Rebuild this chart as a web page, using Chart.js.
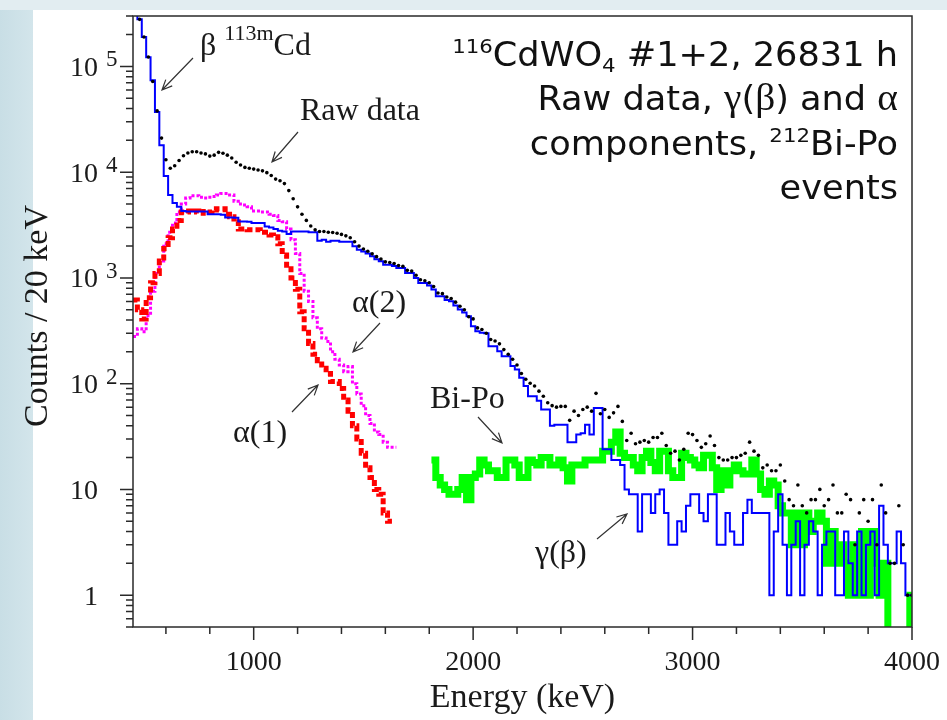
<!DOCTYPE html>
<html>
<head>
<meta charset="utf-8">
<title>116CdWO4 spectrum</title>
<script src="https://cdn.jsdelivr.net/npm/chart.js@4.4.1/dist/chart.umd.min.js"></script>
<style>
  html, body { margin: 0; padding: 0; }
  body {
    width: 947px; height: 720px; overflow: hidden;
    background:
      linear-gradient(to bottom, #e2edf1 0, #e2edf1 10px, transparent 10px),
      linear-gradient(to right, #c8dee5 0, #d3e5eb 33px, #ffffff 33px);
  }
  canvas { position: absolute; left: 0; top: 0; }
</style>
</head>
<body>
<canvas id="spectrum" width="947" height="720"></canvas>
<script>
// 20 keV bins, first bin starts at 450 keV
const binStart = 450;
const binWidth = 20;
const biPoFirstBin = 68;     // Bi-Po histogram starts at 1810 keV
const emptyBinLevel = 0.3;   // empty bins are drawn below the axis floor

// gamma(beta) component, counts per bin
const gammaBeta = [
  350000, 280000, 190000, 122000, 74000, 37000, 18000, 9200, 6100, 5100,
  4700, 4300, 4250, 4250, 4250, 4250, 4250, 4000, 4000, 4000,
  3950, 3720, 3720, 3700, 3420, 3420, 3400, 3300, 3300, 3300,
  3070, 3000, 2900, 2800, 2750, 2600, 2750, 2750, 2750, 2750,
  2700, 2700, 2250, 2300, 2200, 2250, 2250, 2200, 2200, 2200,
  1990, 1850, 1780, 1700, 1600, 1500, 1435, 1335, 1335, 1300,
  1240, 1240, 1115, 1115, 1000, 897, 897, 850, 776, 670,
  670, 620, 601, 550, 502, 470, 434, 349, 313, 303,
  300, 226, 226, 203, 182, 182, 147, 136, 114, 95,
  76, 76, 69, 57, 57, 40, 41, 41, 41, 28,
  28, 33, 34, 41, 33, 59, 59, 24, 24, 19,
  19, 17, 10, 9, 9, 4, 9, 9, 6, 9,
  10, 6, 3, 3, 5, 4, 7, 9, 9, 6,
  5, 9, 9, 3, 3, 6, 4, 3, 3, 6,
  8, 6, 6, 6, 6, 1, 4, 9, 3, 1,
  3, 5, 1, 3, 5, 4, 1, 3, 4, 4,
  1, 1, 4, 2, 1, 4, 1, 3, 4, 1,
  7, 3, 2, 2, 4, 2, 1, 1
];

// raw data, counts per bin
const rawData = [
  360000, 279000, 190000, 123000, 72000, 38000, 21000, 13100, 10900, 11500,
  12900, 14300, 15200, 15600, 15600, 15200, 14900, 14200, 14500, 15400,
  15100, 14500, 13600, 12400, 11700, 11100, 10900, 10700, 10500, 10300,
  9900, 9300, 8600, 8300, 7800, 6700, 5600, 4700, 4000, 3500,
  3100, 2850, 2750, 2750, 2700, 2690, 2650, 2580, 2500, 2400,
  2200, 2000, 1880, 1790, 1690, 1590, 1510, 1420, 1400, 1370,
  1310, 1290, 1180, 1160, 1060, 960, 940, 900, 830, 720,
  710, 660, 640, 590, 540, 500, 430, 410, 337, 325,
  300, 262, 253, 238, 210, 190, 170, 150, 125, 110,
  101, 95, 85, 76, 66, 62, 60, 61, 61, 45,
  55, 50, 57, 60, 55, 81, 52, 57, 48, 53,
  61, 44, 29, 34, 27, 28, 29, 28, 31, 31,
  34, 26, 22, 23, 19, 24, 34, 33, 29, 25,
  27, 32, 26, 20, 19, 19, 20, 20, 21, 22,
  28, 23, 21, 16, 17, 15, 15, 17, 12, 8,
  7, 11, 7, 6, 8, 8, 10, 7, 8, 11,
  6, 6, 9, 8, 3, 6, 8, 5, 8, 3,
  11, 6, 2, 2, 7, 3, 1, 1
];

// alpha components of the two crystals
const alpha1 = [
  620, 500, 410, 650, 900, 1100, 1450, 1900, 2400, 2900,
  3500, 4200, 4300, 4200, 4300, 4250, 4100, 4200, 4400, 4500,
  4500, 4000, 3800, 3400, 2900, 2900, 2850, 2850, 2850, 2700,
  2700, 2550, 2450, 2100, 1650, 1220, 1000, 780, 480, 330,
  240, 190, 165, 140, 125, 105, 105, 90, 70, 55,
  40, 30, 22, 16, 13, 10, 9, 6, 5
];
const alpha2 = [
  280, 330, 310, 440, 750, 1100, 1450, 2100, 2700, 3300,
  4200, 5000, 5700, 6000, 6000, 5800, 5700, 5800, 5900, 6100,
  6300, 6300, 6100, 5300, 5000, 4900, 4700, 4300, 4300, 4200,
  4200, 4000, 3900, 3500, 3400, 2900, 2300, 1700, 1100, 750,
  600, 420, 330, 270, 250, 200, 170, 150, 130, 145,
  100, 80, 62, 50, 42, 35, 33, 28, 25, 25
];

// 212Bi-212Po events
const biPo = [
  19, 13, 11, 10, 9, 9, 10, 13, 8, 13,
  14, 19, 17, 15, 15, 13, 13, 19, 19, 17,
  13, 13, 19, 18, 17, 20, 20, 17, 17, 19,
  16, 12, 17, 17, 17, 19, 19, 19, 19, 23,
  23, 28, 35, 22, 20, 20, 17, 15, 20, 23,
  18, 15, 23, 23, 15, 13, 13, 22, 20, 19,
  17, 16, 21, 21, 16, 10, 15, 11, 15, 17,
  15, 14, 14, 19, 14, 10, 9, 12, 11, 7,
  6, 6, 3, 6, 3, 6, 4, 5, 6, 5,
  2, 4, 2, 3, 2, 1, 3, 1, 4, 1,
  4, 2, 1, 2, 0, 0, 0, 0, 0, 1
];

const xTickLabels = [1000, 2000, 3000, 4000];
const xMinorStep = 200;
const yDecades = [1, 10, 100, 1000, 10000, 100000];
const yDecadeExp = ['', '', '2', '3', '4', '5'];

const SERIF = '"Liberation Serif", "Times New Roman", serif';
const SANS = '"DejaVu Sans", sans-serif';

// step histogram: one point per lower bin edge plus the closing edge
function histogram(counts, firstBin) {
  const pts = counts.map((c, i) => ({
    x: binStart + binWidth * (firstBin + i),
    y: c > 0 ? c : emptyBinLevel
  }));
  const last = counts[counts.length - 1];
  pts.push({ x: binStart + binWidth * (firstBin + counts.length), y: last > 0 ? last : emptyBinLevel });
  return pts;
}

function binCentres(counts) {
  return counts.map((c, i) => ({ x: binStart + binWidth * (i + 0.5), y: c }));
}

// draw a row of text pieces (different fonts / raised pieces)
function drawRuns(ctx, runs, x, y, align) {
  let w = 0;
  runs.forEach(r => { ctx.font = r.font; w += ctx.measureText(r.t).width; });
  let cx = align === 'right' ? x - w : x;
  ctx.textAlign = 'left';
  ctx.textBaseline = 'alphabetic';
  runs.forEach(r => {
    ctx.font = r.font;
    ctx.fillText(r.t, cx, y - (r.rise || 0));
    cx += ctx.measureText(r.t).width;
  });
}

function drawArrow(ctx, x1, y1, x2, y2) {
  const ang = Math.atan2(y2 - y1, x2 - x1);
  const h = 11, spread = 0.42;
  ctx.beginPath();
  ctx.moveTo(x1, y1);
  ctx.lineTo(x2, y2);
  ctx.moveTo(x2 - h * Math.cos(ang - spread), y2 - h * Math.sin(ang - spread));
  ctx.lineTo(x2, y2);
  ctx.lineTo(x2 - h * Math.cos(ang + spread), y2 - h * Math.sin(ang + spread));
  ctx.stroke();
}

const ann = (size) => size + 'px ' + SERIF;
const notes = [
  { runs: [{ t: 'β', font: ann(32) }, { t: ' ', font: ann(32) }, { t: '113m', font: ann(22), rise: 15 }, { t: 'Cd', font: ann(32) }],
    x: 200, y: 55, arrow: [193, 58, 162, 90] },
  { runs: [{ t: 'Raw data', font: ann(32) }], x: 300, y: 120, arrow: [298, 132, 272, 162] },
  { runs: [{ t: 'α(2)', font: ann(32) }], x: 352, y: 312, arrow: [380, 323, 353, 352] },
  { runs: [{ t: 'α(1)', font: ann(32) }], x: 233, y: 442, arrow: [292, 412, 318, 385] },
  { runs: [{ t: 'Bi-Po', font: ann(32) }], x: 430, y: 408, arrow: [478, 417, 502, 443] },
  { runs: [{ t: 'γ(β)', font: ann(32) }], x: 535, y: 562, arrow: [597, 539, 627, 514] }
];

// description block: geometric sans, a little wider than DejaVu
const big = '33px ' + SANS, small = '20px ' + SANS, greek = '37px ' + SERIF;
const infoStretch = 1.065;
const infoLines = [
  { y: 66, runs: [{ t: '116', font: small, rise: 13 }, { t: 'CdWO', font: big }, { t: '4', font: small, rise: -6 }, { t: ' #1+2, 26831 h', font: big }] },
  { y: 110, runs: [{ t: 'Raw data, ', font: big }, { t: 'γ', font: greek }, { t: '(', font: big }, { t: 'β', font: greek },
                   { t: ')', font: big }, { t: ' and ', font: big }, { t: 'α', font: greek }] },
  { y: 155, runs: [{ t: 'components, ', font: big }, { t: '212', font: small, rise: 13 }, { t: 'Bi-Po', font: big }] },
  { y: 199, runs: [{ t: 'events', font: big }] }
];

const decor = {
  id: 'decor',
  afterDraw(chart) {
    const { ctx, chartArea: a, scales: { x, y } } = chart;
    ctx.save();

    // frame
    ctx.strokeStyle = '#2a2a2a';
    ctx.lineWidth = 1.5;
    ctx.strokeRect(a.left, a.top, a.right - a.left, a.bottom - a.top);

    // ticks, pointing outwards
    ctx.beginPath();
    for (let v = Math.ceil(x.min / xMinorStep) * xMinorStep; v <= x.max; v += xMinorStep) {
      const px = x.getPixelForValue(v);
      const len = xTickLabels.includes(v) ? 13 : 7;
      ctx.moveTo(px, a.bottom);
      ctx.lineTo(px, a.bottom + len);
    }
    for (let d = Math.floor(Math.log10(y.min)); d <= Math.ceil(Math.log10(y.max)); d++) {
      for (let m = 1; m <= 9; m++) {
        const v = m * Math.pow(10, d);
        if (v < y.min * 0.999 || v > y.max * 1.001) continue;
        const py = y.getPixelForValue(v);
        ctx.moveTo(a.left, py);
        ctx.lineTo(a.left - (m === 1 ? 13 : 7), py);
      }
    }
    ctx.stroke();

    // tick labels
    ctx.fillStyle = '#1a1a1a';
    ctx.font = '28px ' + SERIF;
    ctx.textAlign = 'center';
    ctx.textBaseline = 'alphabetic';
    xTickLabels.forEach(v => ctx.fillText(String(v), x.getPixelForValue(v), 670));

    yDecades.forEach((v, i) => {
      const py = y.getPixelForValue(v);
      const base = i === 0 ? '1' : '10';
      ctx.font = '28px ' + SERIF;
      ctx.textAlign = 'right';
      ctx.fillText(base, 98, py + 9.5);
      if (yDecadeExp[i]) {
        ctx.font = '23px ' + SERIF;
        ctx.textAlign = 'left';
        ctx.fillText(yDecadeExp[i], 106, py);
      }
    });

    // axis titles
    ctx.font = '34px ' + SERIF;
    ctx.textAlign = 'center';
    ctx.fillText('Energy (keV)', (a.left + a.right) / 2, 707);
    ctx.save();
    ctx.translate(47, 316);
    ctx.rotate(-Math.PI / 2);
    ctx.fillText('Counts / 20 keV', 0, 0);
    ctx.restore();

    // annotations with arrows
    ctx.strokeStyle = '#333';
    ctx.lineWidth = 1.2;
    notes.forEach(n => {
      drawRuns(ctx, n.runs, n.x, n.y, 'left');
      drawArrow(ctx, ...n.arrow);
    });

    // description block, top right
    ctx.fillStyle = '#111';
    ctx.save();
    ctx.translate(898, 0);
    ctx.scale(infoStretch, 1);
    infoLines.forEach(l => drawRuns(ctx, l.runs, 0, l.y, 'right'));
    ctx.restore();

    ctx.restore();
  }
};

const stepLine = { stepped: true, pointRadius: 0, fill: false, borderCapStyle: 'butt', borderJoinStyle: 'miter', clip: 0 };

new Chart(document.getElementById('spectrum').getContext('2d'), {
  type: 'line',
  data: {
    datasets: [
      { label: 'Raw data', data: binCentres(rawData), showLine: false, pointRadius: 1.8,
        pointBackgroundColor: '#000', pointBorderWidth: 0, clip: 0 },
      { ...stepLine, label: 'γ(β)', data: histogram(gammaBeta, 0), borderColor: '#0000ff', borderWidth: 2 },
      { ...stepLine, label: 'α(1)', data: histogram(alpha1, 0), borderColor: '#ff0000', borderWidth: 5, borderDash: [6, 3] },
      { ...stepLine, label: 'α(2)', data: histogram(alpha2, 0), borderColor: '#ff00ff', borderWidth: 3, borderDash: [3, 2] },
      { ...stepLine, label: 'Bi-Po', data: histogram(biPo, biPoFirstBin), borderColor: '#00ff00', borderWidth: 7 }
    ]
  },
  options: {
    responsive: false,
    animation: false,
    events: [],
    layout: { padding: { left: 0, right: 35, top: 16, bottom: 0 } },
    plugins: { legend: { display: false }, tooltip: { enabled: false } },
    scales: {
      x: {
        type: 'linear', min: 450, max: 4000,
        ticks: { display: false }, grid: { display: false }, border: { display: false },
        afterFit: s => { s.height = 93; }
      },
      y: {
        type: 'logarithmic', min: 0.5, max: 300000,
        ticks: { display: false }, grid: { display: false }, border: { display: false },
        afterFit: s => { s.width = 133; }
      }
    }
  },
  plugins: [decor]
});
</script>
</body>
</html>
